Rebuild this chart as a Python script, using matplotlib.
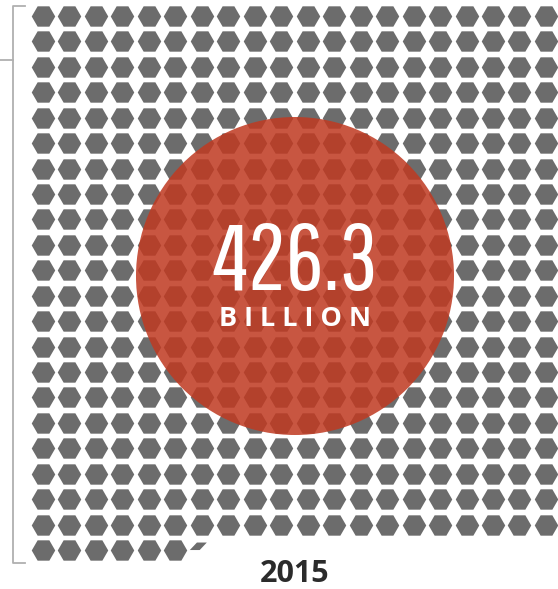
import numpy as np
import matplotlib
matplotlib.use("Agg")
import matplotlib.pyplot as plt
from matplotlib.patches import Ellipse, Polygon

# data: one hexagon = 1 billion
total = 426.3
n_cols = 20
value_label = "426.3"
unit_label = "BILLION"
year_label = "2015"

hex_color = "#6c6c6c"
circle_color = "#bf3a22"

n_full = int(total)
frac = total - n_full
idx = np.arange(n_full)
cols = idx % n_cols
rows = idx // n_cols

W, H = 558, 589
fig = plt.figure(figsize=(W / 100, H / 100), dpi=100)
ax = fig.add_axes([0, 0, 1, 1])
# grid spacing in pixels: 26.47 across, 25.43 down
dx, dy = 26.47, 25.43
x0, y0 = 43, 16
ax.set_xlim(-x0 / dx, (W - x0) / dx)
ax.set_ylim((H - y0) / dy, -y0 / dy)
ax.axis("off")

ax.scatter(cols, rows, marker="H", s=(23.5 * 0.72) ** 2, color=hex_color,
           linewidths=0, zorder=2)

# partial hexagon for the fraction
pc, pr = n_full % n_cols, n_full // n_cols
px = np.array([-12, -12 + 33 * frac, 5, 5 - 33 * frac]) / dx
py = np.array([0, 0, -7.5, -7.5]) / dy
ax.add_patch(Polygon(np.column_stack([pc + px, pr + py]), closed=True,
                     color=hex_color, lw=0, zorder=2))

# circle overlay
cx, cy, r = (295 - x0) / dx, (276 - y0) / dy, 159
ax.add_patch(Ellipse((cx, cy), 2 * r / dx, 2 * r / dy, color=circle_color,
                     alpha=0.86, lw=0, zorder=3))
big = ax.text(cx, (290 - y0) / dy, value_label, color="white", fontsize=30,
              family="Pathway Gothic One", ha="center", va="baseline", zorder=4)
# fit the big number to ~165 px wide
w30 = big.get_window_extent(fig.canvas.get_renderer()).width
big.set_fontsize(30 * 165 / w30)

ax.text(cx, (319 - y0) / dy, " ".join(unit_label), color="white", fontsize=19.5,
        family="Open Sans", weight="bold", ha="center", va="center", zorder=4)

# bracket on the left
bcol = "#b0b0b0"
bx = (13.5 - x0) / dx
bt, bb = (6 - y0) / dy, (563 - y0) / dy
ax.plot([(25 - x0) / dx, bx, bx, (25 - x0) / dx], [bt, bt, bb, bb],
        color=bcol, lw=1.3, zorder=1)
ax.plot([-x0 / dx, bx], [(60 - y0) / dy] * 2, color=bcol, lw=1.3, zorder=1)

ax.text(cx, (574 - y0) / dy, year_label, color="#2b2b2b", fontsize=22,
        family="Open Sans", weight="bold", ha="center", va="center")

fig.savefig("out.png", dpi=100)
